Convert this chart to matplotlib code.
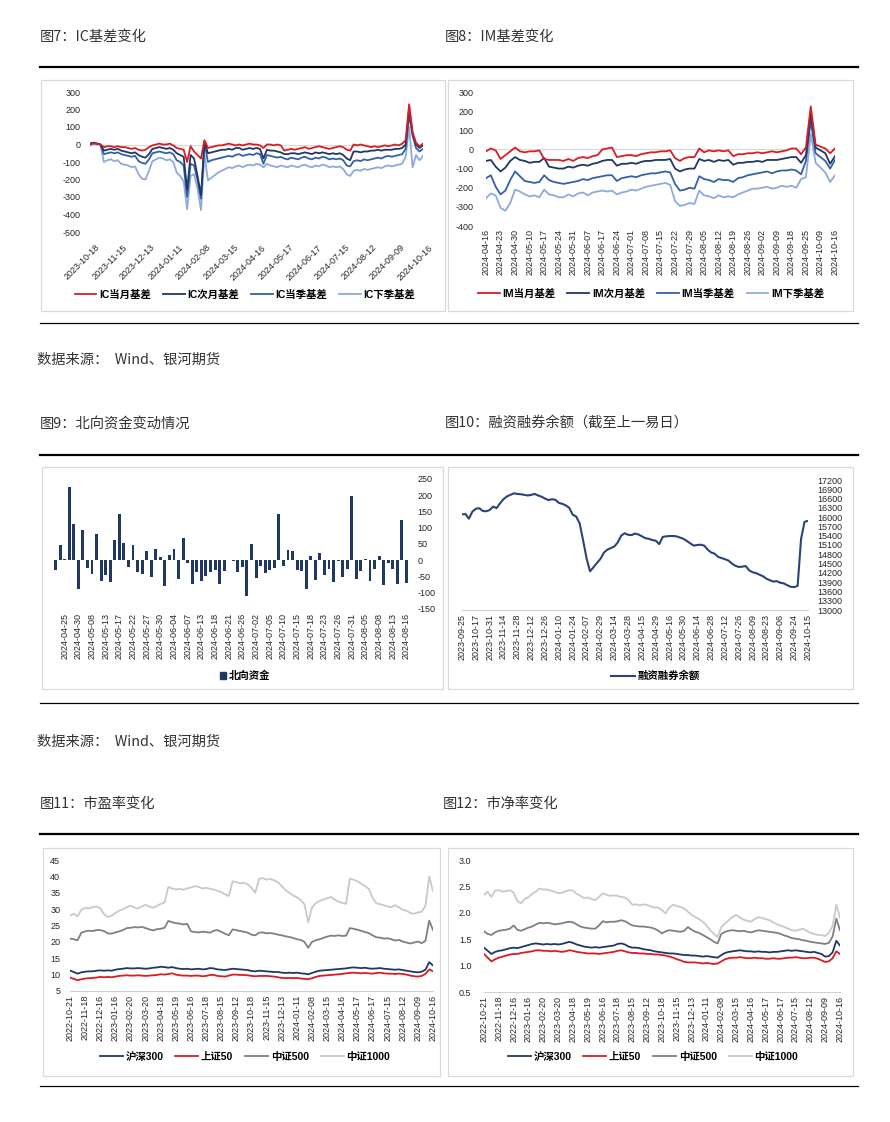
import numpy as np
import matplotlib
matplotlib.use('Agg')
import matplotlib.pyplot as plt
from matplotlib.transforms import ScaledTranslation
from matplotlib.lines import Line2D
from matplotlib.patches import Rectangle, Patch

plt.rcParams['font.family'] = ['Liberation Sans', 'Noto Sans CJK SC']
plt.rcParams['axes.unicode_minus'] = False

# ---------------- data ----------------
ic_dates = ['2023-10-18', '2023-11-15', '2023-12-13', '2024-01-11', '2024-02-08', '2024-03-15',
            '2024-04-16', '2024-05-17', '2024-06-17', '2024-07-15', '2024-08-12', '2024-09-09', '2024-10-16']
ic_cur = [0, 5, 5, 0, -15, -10, -10, -15, -10, -15, -15, -20, -25, -20, -30, -35, -30, -15, -5, 0,
          5, 0, 0, 5, -5, -20, -25, -30, -100, -10, -40, -60, -80, 25, -20, -15, -10, -5, -5, 0,
          5, 0, -5, 0, -5, 0, 5, 0, 0, -5, -20, 0, 0, -5, 0, -5, -35, -30, -25, -30,
          -25, -20, -15, -25, -20, -15, -10, -15, -20, -25, -20, -15, -10, -15, -30, -35, 0, -5, 0, -5,
          -10, -15, -10, -15, -10, -5, -10, -5, 0, -5, 5, 25, 230, 70, 10, -10, 5]
ic_next = [5, 10, 5, 0, -35, -30, -25, -30, -25, -35, -40, -45, -50, -45, -60, -70, -75, -55, -25, -20,
           -15, -20, -25, -20, -30, -50, -60, -70, -260, -60, -80, -180, -290, 15, -50, -45, -40, -35, -30, -30,
           -25, -30, -20, -20, -30, -25, -20, -25, -20, -25, -80, -30, -35, -35, -40, -45, -55, -55, -50, -50,
           -55, -50, -45, -50, -55, -45, -50, -45, -50, -55, -50, -55, -50, -60, -80, -90, -40, -40, -45, -40,
           -40, -35, -35, -30, -35, -30, -30, -30, -25, -25, -20, 0, 210, 60, 0, -20, -5]
ic_q = [5, 10, 5, 0, -55, -50, -45, -50, -45, -55, -60, -65, -70, -65, -95, -105, -110, -85, -50, -45,
        -40, -45, -50, -45, -55, -90, -100, -120, -300, -110, -120, -200, -310, 10, -100, -90, -85, -80, -75, -70,
        -65, -70, -60, -55, -65, -60, -55, -60, -50, -55, -110, -60, -65, -70, -75, -70, -80, -85, -75, -80,
        -85, -75, -70, -80, -85, -75, -80, -70, -75, -85, -80, -85, -80, -90, -120, -125, -95, -90, -95, -85,
        -90, -85, -80, -75, -80, -70, -65, -70, -65, -60, -55, -25, 170, 50, -20, -40, -25]
ic_nq = [-5, 5, 5, 0, -100, -90, -85, -95, -90, -110, -115, -120, -130, -125, -170, -195, -200, -150, -95, -85,
         -75, -80, -90, -85, -100, -160, -180, -210, -370, -180, -170, -250, -375, -60, -205, -190, -175, -160, -150, -140,
         -130, -135, -125, -120, -130, -120, -115, -120, -110, -115, -130, -110, -120, -125, -130, -120, -125, -130, -120, -125,
         -130, -120, -115, -125, -130, -120, -125, -115, -120, -130, -125, -130, -125, -140, -170, -180, -150, -145, -150, -140,
         -145, -140, -135, -130, -135, -125, -120, -125, -120, -115, -110, -70, 100, -130, -60, -90, -65]

im_dates = ['2024-04-16', '2024-04-23', '2024-04-30', '2024-05-10', '2024-05-17', '2024-05-24', '2024-05-31',
            '2024-06-07', '2024-06-17', '2024-06-24', '2024-07-01', '2024-07-08', '2024-07-15', '2024-07-22',
            '2024-07-29', '2024-08-05', '2024-08-12', '2024-08-19', '2024-08-26', '2024-09-02', '2024-09-09',
            '2024-09-18', '2024-09-25', '2024-10-09', '2024-10-16']
im_cur = [-10, 5, -5, -50, -30, -10, 10, -10, -15, -10, -10, -5, -50, -55, -55, -55, -60, -50, -60, -45,
          -40, -45, -35, -30, 0, 5, 10, -40, -35, -30, -30, -35, -25, -20, -15, -15, -10, -10, -5, -45,
          -60, -45, -40, -40, 5, -15, -5, -10, -5, -10, -5, -35, -25, -25, -20, -20, -15, -20, -15, -10,
          -15, -10, -5, 5, 5, -25, 10, 225, 25, 15, 5, -20, 5]
im_next = [-60, -55, -90, -115, -95, -60, -40, -55, -60, -70, -65, -65, -45, -90, -95, -100, -100, -90, -95, -85,
           -80, -85, -75, -70, -60, -55, -55, -85, -75, -75, -70, -75, -65, -60, -60, -55, -55, -55, -50, -100,
           -115, -105, -100, -100, -50, -60, -55, -65, -55, -60, -55, -80, -70, -70, -65, -65, -60, -65, -55, -55,
           -55, -50, -45, -40, -40, -70, -30, 190, 10, -5, -20, -75, -35]
im_q = [-150, -135, -195, -235, -215, -160, -115, -140, -165, -170, -175, -170, -135, -160, -170, -175, -180, -175, -170, -165,
        -155, -160, -150, -145, -140, -135, -135, -165, -150, -145, -140, -145, -135, -130, -125, -125, -120, -115, -120, -180,
        -215, -210, -200, -205, -140, -155, -160, -170, -155, -160, -160, -170, -150, -145, -135, -130, -125, -120, -115, -125,
        -115, -110, -110, -105, -110, -130, -60, 150, -20, -40, -60, -100, -55]
im_nq = [-255, -230, -240, -305, -320, -280, -210, -220, -235, -245, -240, -250, -210, -235, -240, -250, -250, -235, -245, -230,
         -225, -240, -225, -220, -215, -220, -215, -235, -225, -220, -210, -215, -205, -195, -190, -185, -180, -175, -185, -270,
         -295, -290, -280, -285, -215, -240, -245, -255, -240, -250, -245, -250, -235, -225, -215, -205, -205, -200, -195, -205,
         -200, -190, -195, -190, -200, -155, -145, 80, -70, -95, -120, -170, -135]

nb_dates = ['2024-04-25', '2024-04-30', '2024-05-08', '2024-05-13', '2024-05-17', '2024-05-22', '2024-05-27',
            '2024-05-30', '2024-06-04', '2024-06-07', '2024-06-13', '2024-06-18', '2024-06-21', '2024-06-26',
            '2024-07-02', '2024-07-05', '2024-07-10', '2024-07-15', '2024-07-18', '2024-07-23', '2024-07-26',
            '2024-07-31', '2024-08-05', '2024-08-08', '2024-08-13', '2024-08-16']
nb_flow = [-31, 46, 5, 226, 110, -87, 94, -24, -41, 81, -65, -46, -67, 62, 141, 53, -21, 48, -36, -41,
           28, -51, 36, 10, -80, 15, 34, -58, 69, -8, -74, -36, -65, -49, -36, -31, -74, -34, 2, -3,
           -36, -21, -111, 50, -56, -18, -40, -31, -24, 143, -18, 32, 28, -31, -32, -89, 13, -62, 21, -44,
           -28, -67, -3, -51, -28, 198, -59, -34, 4, -64, -26, 13, -77, -8, -26, -74, 123, -69]

mg_dates = ['2023-09-25', '2023-10-17', '2023-10-31', '2023-11-14', '2023-11-28', '2023-12-12', '2023-12-26',
            '2024-01-10', '2024-01-24', '2024-02-07', '2024-02-29', '2024-03-14', '2024-03-28', '2024-04-15',
            '2024-04-29', '2024-05-16', '2024-05-30', '2024-06-14', '2024-06-28', '2024-07-12', '2024-07-26',
            '2024-08-09', '2024-08-23', '2024-09-06', '2024-09-24', '2024-10-15']
margin = [16090, 16100, 15950, 16180, 16270, 16290, 16200, 16190, 16230, 16340,
          16290, 16450, 16580, 16670, 16720, 16770, 16750, 16740, 16720, 16700,
          16720, 16750, 16700, 16660, 16600, 16550, 16580, 16560, 16460, 16430,
          16380, 16300, 16080, 16020, 15800, 15250, 14670, 14250, 14380, 14520,
          14650, 14850, 14950, 15000, 15050, 15180, 15400, 15480, 15430, 15420,
          15470, 15440, 15380, 15320, 15300, 15260, 15240, 15130, 15360, 15380,
          15390, 15390, 15380, 15340, 15300, 15230, 15150, 15080, 15100, 15110,
          15080, 14950, 14860, 14820, 14720, 14680, 14640, 14600, 14500, 14430,
          14390, 14400, 14420, 14280, 14220, 14190, 14140, 14090, 14010, 13960,
          13920, 13930, 13880, 13860, 13800, 13750, 13740, 13780, 15300, 15850, 15880]

val_dates = ['2022-10-21', '2022-11-18', '2022-12-16', '2023-01-16', '2023-02-20', '2023-03-20', '2023-04-18',
             '2023-05-19', '2023-06-16', '2023-07-18', '2023-08-15', '2023-09-12', '2023-10-18', '2023-11-15',
             '2023-12-13', '2024-01-11', '2024-02-08', '2024-03-15', '2024-04-16', '2024-05-17', '2024-06-17',
             '2024-07-15', '2024-08-12', '2024-09-09', '2024-10-16']
pe_1000 = [28.0, 28.6, 27.8, 29.8, 30.4, 30.2, 30.6, 30.8, 30.2, 28.5, 27.6, 28.0, 28.8, 29.5, 30.0, 30.6, 31.0, 30.5, 30.2, 30.8,
           31.3, 30.8, 30.4, 31.0, 31.6, 32.0, 36.8, 36.3, 36.0, 36.2, 35.9, 36.3, 36.6, 37.0, 36.8, 36.3, 36.5, 36.2, 36.0, 35.6,
           35.2, 34.5, 34.0, 38.5, 38.2, 37.9, 38.0, 37.6, 36.5, 35.0, 39.2, 39.5, 39.0, 39.2, 38.8, 38.2, 37.0, 35.8, 35.0, 34.2,
           33.6, 32.8, 31.5, 26.0, 30.5, 31.8, 32.5, 32.9, 33.3, 33.7, 32.9, 32.3, 31.9, 31.6, 39.3, 39.0, 38.5, 37.8, 37.0, 36.2,
           33.5, 31.8, 31.5, 31.2, 30.8, 30.6, 31.2, 30.5, 29.8, 29.5, 28.8, 28.6, 29.0, 29.2, 31.0, 39.9, 35.5]
pe_500 = [21.0, 20.8, 20.5, 22.8, 23.2, 23.4, 23.3, 23.6, 23.6, 23.3, 22.6, 22.5, 22.9, 23.2, 23.6, 24.2, 24.3, 24.5, 24.4, 24.6,
          24.2, 23.8, 23.5, 23.9, 24.0, 24.3, 26.4, 26.0, 25.7, 25.6, 25.3, 25.5, 23.2, 23.0, 22.9, 23.1, 23.0, 22.8, 23.4, 23.6,
          23.1, 22.5, 22.0, 23.8, 23.6, 23.3, 23.1, 22.8, 22.2, 22.0, 22.8, 22.9, 22.6, 22.7, 22.5, 22.2, 22.0, 21.7, 21.5, 21.2,
          20.8, 20.6, 20.0, 18.2, 20.0, 20.5, 20.8, 21.2, 21.6, 21.9, 21.8, 22.0, 21.8, 21.9, 24.2, 24.0, 23.7, 23.4, 23.0, 22.7,
          22.0, 21.4, 21.3, 21.0, 21.1, 20.8, 20.4, 20.6, 20.1, 19.8, 19.5, 19.8, 20.1, 19.6, 20.3, 26.5, 23.6]
pe_300 = [11.2, 10.8, 10.3, 10.7, 10.9, 11.0, 11.0, 11.2, 11.3, 11.2, 11.3, 11.2, 11.5, 11.7, 11.8, 12.0, 11.9, 11.9, 12.0, 11.9,
          11.8, 11.9, 12.1, 12.2, 12.4, 12.3, 12.1, 12.3, 12.0, 11.8, 11.7, 11.8, 11.6, 11.7, 11.8, 11.6, 11.7, 12.0, 11.9, 11.6,
          11.5, 11.4, 11.6, 11.8, 11.7, 11.6, 11.5, 11.4, 11.1, 11.0, 11.2, 11.1, 11.0, 10.9, 10.8, 10.8, 10.6, 10.5, 10.6, 10.5,
          10.6, 10.4, 10.3, 10.1, 10.5, 10.9, 11.2, 11.3, 11.4, 11.5, 11.6, 11.7, 11.8, 11.9, 12.1, 12.2, 12.1, 12.0, 12.1, 11.9,
          11.8, 11.9, 12.0, 11.8, 11.7, 11.6, 11.5, 11.6, 11.4, 11.2, 11.0, 10.8, 10.7, 10.9, 11.5, 13.8, 12.8]
pe_50 = [9.1, 8.7, 8.3, 8.6, 8.8, 8.9, 9.0, 9.1, 9.3, 9.2, 9.3, 9.2, 9.4, 9.6, 9.7, 9.8, 9.7, 9.7, 9.8, 9.7,
         9.6, 9.7, 9.8, 9.9, 10.1, 10.0, 10.2, 10.4, 10.0, 9.8, 9.7, 9.7, 9.6, 9.7, 9.7, 9.5, 9.6, 9.9, 9.9, 9.6,
         9.5, 9.4, 9.7, 10.0, 10.0, 9.9, 9.9, 9.8, 9.6, 9.5, 9.6, 9.6, 9.6, 9.5, 9.4, 9.2, 9.0, 8.9, 9.0, 8.9,
         9.0, 8.8, 8.7, 8.6, 8.9, 9.3, 9.6, 9.7, 9.8, 9.9, 10.0, 10.1, 10.2, 10.4, 10.5, 10.6, 10.5, 10.4, 10.5, 10.4,
         10.3, 10.5, 10.6, 10.4, 10.3, 10.3, 10.2, 10.3, 10.2, 10.0, 9.7, 9.5, 9.4, 9.6, 10.2, 11.6, 11.0]

pb_1000 = [2.34, 2.40, 2.30, 2.42, 2.43, 2.40, 2.41, 2.43, 2.38, 2.22, 2.18, 2.26, 2.30, 2.36, 2.40, 2.46, 2.44, 2.44, 2.42, 2.40,
           2.37, 2.38, 2.41, 2.43, 2.42, 2.36, 2.32, 2.28, 2.29, 2.26, 2.24, 2.30, 2.37, 2.34, 2.32, 2.33, 2.32, 2.30, 2.29, 2.24,
           2.15, 2.16, 2.14, 2.16, 2.15, 2.12, 2.10, 2.10, 2.05, 1.99, 2.10, 2.15, 2.13, 2.11, 2.08, 2.02, 1.96, 1.92, 1.88, 1.83,
           1.76, 1.67, 1.60, 1.54, 1.73, 1.80, 1.86, 1.92, 1.96, 1.91, 1.87, 1.85, 1.83, 1.88, 1.92, 1.90, 1.88, 1.86, 1.82, 1.78,
           1.76, 1.73, 1.70, 1.67, 1.66, 1.68, 1.70, 1.66, 1.62, 1.60, 1.58, 1.58, 1.56, 1.62, 1.75, 2.15, 1.91]
pb_500 = [1.65, 1.60, 1.58, 1.63, 1.66, 1.67, 1.68, 1.70, 1.76, 1.68, 1.66, 1.69, 1.72, 1.74, 1.78, 1.81, 1.80, 1.81, 1.80, 1.78,
          1.79, 1.80, 1.82, 1.83, 1.82, 1.78, 1.74, 1.72, 1.71, 1.70, 1.70, 1.76, 1.84, 1.82, 1.83, 1.83, 1.84, 1.86, 1.84, 1.80,
          1.76, 1.75, 1.74, 1.74, 1.73, 1.72, 1.70, 1.66, 1.61, 1.65, 1.67, 1.66, 1.65, 1.64, 1.66, 1.73, 1.68, 1.64, 1.62, 1.58,
          1.54, 1.50, 1.45, 1.42, 1.60, 1.64, 1.66, 1.67, 1.66, 1.65, 1.66, 1.64, 1.63, 1.65, 1.67, 1.66, 1.65, 1.64, 1.63, 1.62,
          1.60, 1.57, 1.55, 1.52, 1.51, 1.50, 1.48, 1.47, 1.45, 1.44, 1.43, 1.42, 1.41, 1.43, 1.55, 1.89, 1.67]
pb_300 = [1.34, 1.28, 1.22, 1.26, 1.28, 1.29, 1.31, 1.33, 1.34, 1.33, 1.35, 1.37, 1.39, 1.41, 1.42, 1.41, 1.40, 1.41, 1.40, 1.41,
          1.40, 1.41, 1.43, 1.45, 1.43, 1.40, 1.38, 1.36, 1.35, 1.34, 1.35, 1.34, 1.35, 1.36, 1.37, 1.38, 1.41, 1.42, 1.40, 1.36,
          1.34, 1.34, 1.33, 1.31, 1.30, 1.29, 1.27, 1.26, 1.25, 1.24, 1.23, 1.23, 1.22, 1.21, 1.20, 1.20, 1.19, 1.19, 1.18, 1.17,
          1.18, 1.17, 1.16, 1.15, 1.20, 1.24, 1.26, 1.27, 1.28, 1.29, 1.28, 1.27, 1.27, 1.26, 1.27, 1.26, 1.26, 1.25, 1.26, 1.26,
          1.27, 1.28, 1.29, 1.28, 1.29, 1.28, 1.27, 1.26, 1.25, 1.26, 1.24, 1.22, 1.17, 1.18, 1.25, 1.47, 1.38]
pb_50 = [1.22, 1.15, 1.08, 1.12, 1.15, 1.17, 1.19, 1.21, 1.22, 1.22, 1.24, 1.25, 1.26, 1.27, 1.29, 1.29, 1.28, 1.28, 1.27, 1.28,
         1.27, 1.26, 1.27, 1.29, 1.28, 1.26, 1.25, 1.24, 1.23, 1.23, 1.23, 1.22, 1.23, 1.24, 1.25, 1.26, 1.28, 1.29, 1.27, 1.25,
         1.24, 1.24, 1.23, 1.23, 1.22, 1.22, 1.21, 1.21, 1.20, 1.19, 1.17, 1.15, 1.12, 1.10, 1.07, 1.06, 1.06, 1.06, 1.05, 1.04,
         1.05, 1.04, 1.03, 1.04, 1.08, 1.12, 1.14, 1.15, 1.15, 1.16, 1.15, 1.14, 1.14, 1.15, 1.14, 1.14, 1.13, 1.13, 1.14, 1.13,
         1.13, 1.14, 1.15, 1.15, 1.16, 1.15, 1.14, 1.14, 1.15, 1.15, 1.13, 1.10, 1.07, 1.08, 1.14, 1.27, 1.22]

# ---------------- style ----------------
W, H = 890, 1122
RED = '#DC1C22'
NAVY = '#1F3864'
MID = '#3560A8'
LIGHT = '#8EAADC'
G500 = '#808080'
G1000 = '#C9C9C9'
TICK = '#262626'
CJK = ['Noto Sans CJK SC', 'DejaVu Sans']
LW = 1.3

fig = plt.figure(figsize=(W / 100, H / 100), dpi=100)


def make_ax(x0, y0, x1, y1):
    ax = fig.add_axes([x0 / W, 1 - y1 / H, (x1 - x0) / W, (y1 - y0) / H])
    for s in ax.spines.values():
        s.set_visible(False)
    ax.set_facecolor('none')
    ax.tick_params(length=0, labelsize=6.5, colors=TICK)
    ax.set_xticks([])
    return ax


def xlabels(ax, pos, labels, rot, dx, dy, **kw):
    tr = ax.get_xaxis_transform() + ScaledTranslation(dx / 100, -dy / 100, fig.dpi_scale_trans)
    for p, l in zip(pos, labels):
        ax.text(p, 0, l, transform=tr, rotation=rot, fontsize=6.5, color=TICK, clip_on=False, **kw)


def hline(y, x0, x1, lw):
    fig.add_artist(Line2D([x0 / W, x1 / W], [1 - y / H, 1 - y / H], color='black', lw=lw))


def panel(x0, y0, x1, y1):
    fig.add_artist(Rectangle((x0 / W, 1 - y1 / H), (x1 - x0) / W, (y1 - y0) / H,
                             transform=fig.transFigure, fill=False, edgecolor='#DADADA', lw=0.9))


def title(x, y, s):
    fig.text(x / W, 1 - y / H, s, fontsize=10.3, ha='left', va='center', family=CJK, color='#333333')


def legend(handles, labels, cx, cy, **kw):
    fig.legend(handles, labels, loc='center', bbox_to_anchor=(cx / W, 1 - cy / H), ncol=len(labels),
               frameon=False, prop={'family': ['Liberation Sans', 'Noto Sans CJK SC'], 'size': 7.5, 'weight': 'bold'},
               handletextpad=0.25, columnspacing=1.15, borderaxespad=0, borderpad=0, **kw)


# ---------------- headers and rules ----------------
title(40, 37, '图7：IC基差变化')
title(445, 37, '图8：IM基差变化')
hline(67, 40, 858, 1.6)
hline(323, 40, 858, 0.9)
title(37, 360, '数据来源：  Wind、银河期货')
title(40, 424, '图9：北向资金变动情况')
title(445, 424, '图10：融资融券余额（截至上一易日）')
hline(455, 40, 858, 1.6)
hline(703, 40, 858, 0.9)
title(37, 742, '数据来源：  Wind、银河期货')
title(40, 804, '图11：市盈率变化')
title(443, 804, '图12：市净率变化')
hline(834, 40, 858, 1.6)
hline(1086, 40, 858, 0.9)

panel(41, 80, 445, 311)
panel(448, 80, 853, 311)
panel(42, 467, 443, 689)
panel(448, 467, 853, 689)
panel(43, 848, 440, 1076)
panel(448, 848, 853, 1076)

# ---------------- chart 7: IC basis ----------------
ax = make_ax(90, 92, 423, 232)
x = np.arange(len(ic_cur))
ax.axhline(0, color='#D9D9D9', lw=0.8, zorder=0)
h7 = []
for ser, c in [(ic_nq, LIGHT), (ic_q, MID), (ic_next, NAVY), (ic_cur, RED)]:
    h7.append(ax.plot(x, ser, color=c, lw=LW, solid_joinstyle='round')[0])
ax.set_xlim(0, len(ic_cur) - 1)
ax.set_ylim(-500, 300)
ax.set_yticks(range(-500, 301, 100))
ax.set_yticklabels([str(v) for v in range(-500, 301, 100)])
ax.tick_params(axis='y', pad=7)
xlabels(ax, np.linspace(0, len(ic_cur) - 1, len(ic_dates)), ic_dates, 45, 5, 11,
        ha='right', va='top', rotation_mode='anchor')
h7 = h7[::-1]
legend(h7, ['IC当月基差', 'IC次月基差', 'IC当季基差', 'IC下季基差'], 245, 295, handlelength=2.1)

# ---------------- chart 8: IM basis ----------------
ax = make_ax(486, 92, 835, 226)
x = np.arange(len(im_cur))
ax.axhline(0, color='#D9D9D9', lw=0.8, zorder=0)
h8 = []
for ser, c in [(im_nq, LIGHT), (im_q, MID), (im_next, NAVY), (im_cur, RED)]:
    h8.append(ax.plot(x, ser, color=c, lw=LW, solid_joinstyle='round')[0])
ax.set_xlim(0, len(im_cur) - 1)
ax.set_ylim(-400, 300)
ax.set_yticks(range(-400, 301, 100))
ax.set_yticklabels([str(v) for v in range(-400, 301, 100)])
ax.tick_params(axis='y', pad=9)
xlabels(ax, np.linspace(0, len(im_cur) - 1, len(im_dates)), im_dates, 90, 0, 3, ha='center', va='top')
h8 = h8[::-1]
legend(h8, ['IM当月基差', 'IM次月基差', 'IM当季基差', 'IM下季基差'], 651, 294, handlelength=2.1)

# ---------------- chart 9: northbound flow ----------------
ax = make_ax(51, 479, 411, 609)
x = np.arange(len(nb_flow))
ax.bar(x, nb_flow, width=0.64, color=NAVY)
ax.set_xlim(-1, len(nb_flow))
ax.set_ylim(-150, 250)
ax.yaxis.tick_right()
ax.set_yticks(range(-150, 251, 50))
ax.set_yticklabels([str(v) for v in range(-150, 251, 50)])
ax.tick_params(axis='y', pad=4.5)
xlabels(ax, np.arange(2, len(nb_flow), 3), nb_dates, 90, 0, 4, ha='center', va='top')
legend([Patch(color=NAVY)], ['北向资金'], 245, 676, handlelength=0.55, handleheight=0.55)

# ---------------- chart 10: margin balance ----------------
ax = make_ax(462, 480, 808, 610)
x = np.arange(len(margin))
ax.plot(x, margin, color='#2A4478', lw=1.5, solid_joinstyle='round')
ax.set_xlim(0, len(margin) - 1)
ax.set_ylim(13000, 17200)
ax.spines['bottom'].set_visible(True)
ax.spines['bottom'].set_color('#D0D0D0')
ax.yaxis.tick_right()
ax.set_yticks(range(13000, 17201, 300))
ax.set_yticklabels([str(v) for v in range(13000, 17201, 300)])
ax.tick_params(axis='y', pad=7)
xlabels(ax, np.linspace(0, len(margin) - 1, len(mg_dates)), mg_dates, 90, 0, 4, ha='center', va='top')
legend([Line2D([], [], color='#2A4478', lw=1.5)], ['融资融券余额'], 655, 676, handlelength=2.3)

# ---------------- chart 11: PE ----------------
ax = make_ax(70, 860, 433, 991)
x = np.arange(len(pe_300))
h11 = []
for ser, c in [(pe_300, NAVY), (pe_50, RED), (pe_500, G500), (pe_1000, G1000)]:
    h11.append(ax.plot(x, ser, color=c, lw=LW, solid_joinstyle='round')[0])
ax.set_xlim(0, len(pe_300) - 1)
ax.set_ylim(5, 45)
ax.spines['bottom'].set_visible(True)
ax.spines['bottom'].set_color('#D0D0D0')
ax.set_yticks(range(5, 46, 5))
ax.set_yticklabels([str(v) for v in range(5, 46, 5)])
ax.tick_params(axis='y', pad=7)
xlabels(ax, np.linspace(0, len(pe_300) - 1, len(val_dates)), val_dates, 90, 0, 4, ha='center', va='top')
legend(h11, ['沪深300', '上证50', '中证500', '中证1000'], 245, 1057, handlelength=2.2)

# ---------------- chart 12: PB ----------------
ax = make_ax(484, 860, 840, 992)
x = np.arange(len(pb_300))
h12 = []
for ser, c in [(pb_300, NAVY), (pb_50, RED), (pb_500, G500), (pb_1000, G1000)]:
    h12.append(ax.plot(x, ser, color=c, lw=LW, solid_joinstyle='round')[0])
ax.set_xlim(0, len(pb_300) - 1)
ax.set_ylim(0.5, 3.0)
ax.spines['bottom'].set_visible(True)
ax.spines['bottom'].set_color('#D0D0D0')
yt = [0.5, 1.0, 1.5, 2.0, 2.5, 3.0]
ax.set_yticks(yt)
ax.set_yticklabels(['%.1f' % v for v in yt])
ax.tick_params(axis='y', pad=9)
xlabels(ax, np.linspace(0, len(pb_300) - 1, len(val_dates)), val_dates, 90, 0, 4, ha='center', va='top')
legend(h12, ['沪深300', '上证50', '中证500', '中证1000'], 653, 1057, handlelength=2.2)

fig.savefig('out.png', dpi=100, facecolor='white')
